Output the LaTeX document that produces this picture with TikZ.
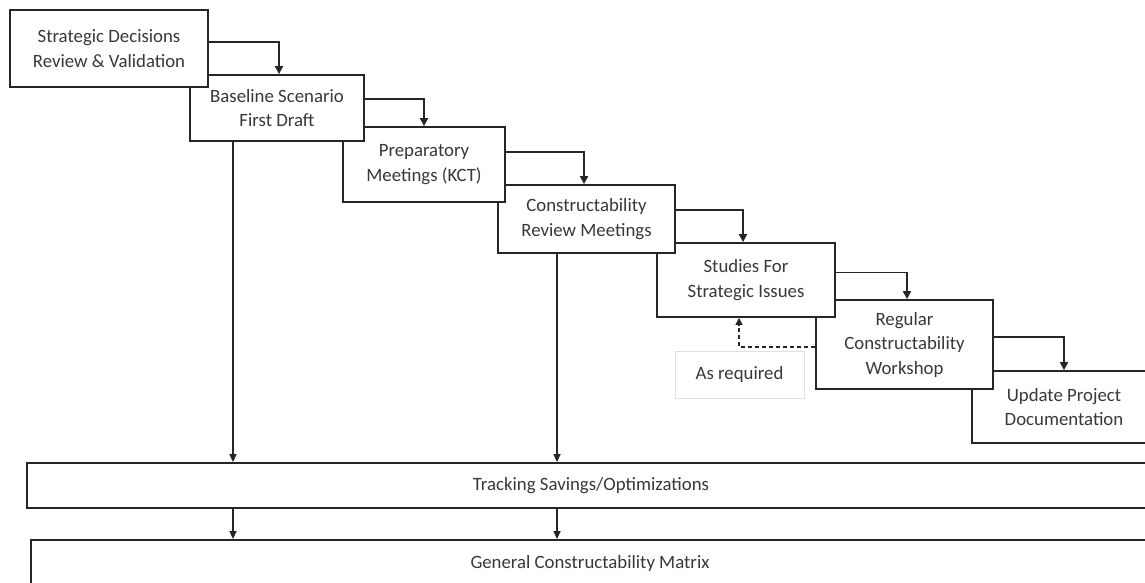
\documentclass[tikz,border=0pt]{standalone}
\usepackage{fontspec}
\setmainfont{Carlito}
\usetikzlibrary{arrows.meta}
\begin{document}
\begin{tikzpicture}[x=1pt,y=-1pt,
  stage/.style={draw=black!85, line width=1.8pt, fill=white, align=center,
    inner sep=0pt, font=\fontsize{18.8}{24.5}\selectfont, text=black!78},
  band/.style={stage},
  note/.style={draw=black!12, line width=0.6pt, fill=white, align=center,
    inner sep=0pt, font=\fontsize{18.8}{24.5}\selectfont, text=black!78},
  flow/.style={draw=black!85, line width=1.8pt, -{Triangle[length=8pt,width=8pt]}},
  feed/.style={draw=black!85, line width=1.3pt, -{Triangle[length=8pt,width=7pt]}},
  loopback/.style={draw=black!85, line width=1.2pt, dash pattern=on 4pt off 3pt,
    -{Triangle[length=7pt,width=7pt]}}
]
\useasboundingbox (0,0) rectangle (1145,583);

% cascade of stages, later ones drawn first so earlier ones sit on top
\node[stage, minimum width=184pt, minimum height=72pt] (b7) at (1064,407)
  {Update Project\\Documentation};
\node[stage, minimum width=177pt, minimum height=89pt] (b6) at (904.5,344.5)
  {Regular\\Constructability\\Workshop};
\node[stage, minimum width=178pt, minimum height=74pt] (b5) at (746,280)
  {Studies For\\Strategic Issues};
\node[stage, minimum width=177pt, minimum height=68pt] (b4) at (586.5,219)
  {Constructability\\Review Meetings};
\node[stage, minimum width=162pt, minimum height=75pt] (b3) at (424,164.5)
  {Preparatory\\Meetings (KCT)};
\node[stage, minimum width=174pt, minimum height=66pt] (b2) at (277,108)
  {Baseline Scenario\\First Draft};
\node[stage, minimum width=198pt, minimum height=77pt] (b1) at (109,48.5)
  {Strategic Decisions\\Review \& Validation};

\node[note, minimum width=129pt, minimum height=47pt] (req) at (739.5,374.5)
  {As required};

% bottom bands
\node[band, minimum width=1128pt, minimum height=45pt] (track) at (591,485.5)
  {Tracking Savings/Optimizations};
\node[band, minimum width=1118pt, minimum height=46pt] (matrix) at (590,563)
  {General Constructability Matrix};

% stage-to-stage flow
\draw[flow] ([yshift=6.5pt]b1.east) -| ([xshift=2pt]b2.north);
\draw[flow] ([yshift=9pt]b2.east) -| (b3.north);
\draw[flow] ([yshift=12.5pt]b3.east) -| ([xshift=-2.5pt]b4.north);
\draw[flow] ([yshift=9pt]b4.east) -| ([xshift=-3pt]b5.north);
\draw[flow] ([yshift=7.5pt]b5.east) -| ([xshift=2.5pt]b6.north);
\draw[flow] ([yshift=7.5pt]b6.east) -| (b7.north);

% occasional return to strategic studies
\draw[loopback] ([yshift=-2.5pt]b6.west) -| ([xshift=-7pt]b5.south);

% feeds into tracking and the matrix
\draw[feed] ([xshift=-44pt]b2.south) -- ([xshift=-44pt]b2.south |- track.north);
\draw[feed] ([xshift=-29.5pt]b4.south) -- ([xshift=-29.5pt]b4.south |- track.north);
\draw[feed] ([xshift=-44pt]b2.south |- track.south) -- ([xshift=-44pt]b2.south |- matrix.north);
\draw[feed] ([xshift=-29.5pt]b4.south |- track.south) -- ([xshift=-29.5pt]b4.south |- matrix.north);
\end{tikzpicture}
\end{document}
